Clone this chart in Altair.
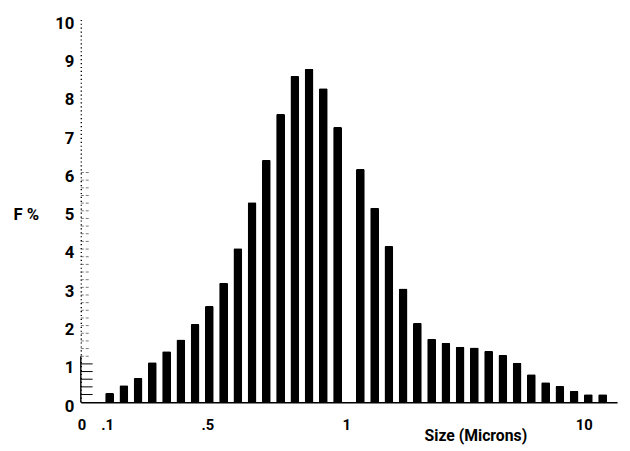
import altair as alt
import pandas as pd

# Bin positions (bar slots along the size axis; a wider gap sits at 1 micron)
bin_pos = [1, 2, 3, 4, 5, 6, 7, 8, 9, 10, 11, 12, 13, 14, 15, 16, 17,
           18.6, 19.6, 20.6, 21.6, 22.6, 23.6, 24.6, 25.6, 26.6, 27.6,
           28.6, 29.6, 30.6, 31.6, 32.6, 33.6, 34.6, 35.6]
# Frequency in %
freq = [0.24, 0.44, 0.63, 1.04, 1.33, 1.64, 2.04, 2.51, 3.12, 4.02, 5.22,
        6.33, 7.53, 8.52, 8.71, 8.20, 7.19,
        6.09, 5.08, 4.08, 2.97, 2.07, 1.66, 1.55, 1.45, 1.43, 1.34, 1.23,
        1.03, 0.73, 0.52, 0.42, 0.30, 0.21, 0.21]

x_tick_vals = [-0.675, 0.82, 7.86, 17.6, 34.28]
x_tick_labels = ["0", ".1", ".5", "1", "10"]
y_tick_vals = [0, 1, 2, 3, 4, 5, 6, 7, 8, 9, 10]
minor_solid = [0.2, 0.4, 0.6, 0.8, 1.0]
minor_dash = [1.2, 1.4, 1.6, 1.8, 2.0, 2.2, 2.4, 2.6, 2.8, 3.0, 3.2, 3.4, 3.6,
              3.8, 4.0, 4.2, 4.4, 4.6, 4.8, 5.0, 5.2, 5.4, 5.6, 5.8, 6.0]

FONT = "Roboto"

df = pd.DataFrame({"pos": bin_pos, "f": freq})

expr = "''"
for v, lab in reversed(list(zip(x_tick_vals, x_tick_labels))):
    expr = f"abs(datum.value - ({v})) < 0.01 ? '{lab}' : ({expr})"

x_axis = alt.Axis(
    values=x_tick_vals, labelExpr=expr, title="Size (Microns)",
    ticks=False, grid=False, domainColor="black", domainWidth=1.6,
    labelFont=FONT, labelFontSize=15, labelFontWeight="bold", labelColor="black",
    labelPadding=16,
    labelAlign={"condition": {"test": "datum.value < 0", "value": "right"}, "value": "center"},
    titleFont=FONT, titleFontSize=16, titleFontWeight="bold", titleColor="black",
    titleX=401, titleY=34, titleAlign="center", titleBaseline="middle",
)
y_axis = alt.Axis(
    values=y_tick_vals, title="F %", titleAngle=0, titleX=-69, titleY=198,
    titleAlign="left", titleBaseline="middle",
    titleFont=FONT, titleFontSize=17, titleFontWeight="bold", titleColor="black",
    domainDash=[1.2, 2.8], domainColor="black", domainWidth=1.4,
    ticks=False, grid=False, labelPadding=7, labelOffset=4,
    labelFont=FONT, labelFontSize=17, labelFontWeight="bold", labelColor="black",
)
y_scale = alt.Scale(domain=[0, 10], nice=False)

bars = alt.Chart(df).mark_bar(
    color="black", size=9, cornerRadiusTopLeft=1.5, cornerRadiusTopRight=1.5
).encode(
    x=alt.X("pos:Q", scale=alt.Scale(domain=[-0.675, 36.27], nice=False, zero=False), axis=x_axis),
    y=alt.Y("f:Q", scale=y_scale, axis=y_axis),
)

solid_ticks = alt.Chart(pd.DataFrame({"f": minor_solid})).mark_rule(
    color="black", strokeWidth=1
).encode(y=alt.Y("f:Q", scale=y_scale, axis=y_axis), x=alt.value(0), x2=alt.value(12))

dash_ticks = alt.Chart(pd.DataFrame({"f": minor_dash})).mark_rule(
    color="#555555", strokeWidth=0.8, strokeDash=[3, 2]
).encode(y=alt.Y("f:Q", scale=y_scale, axis=y_axis), x=alt.value(0), x2=alt.value(10))

base_line = alt.Chart(pd.DataFrame({"f": [0], "f2": [1.2]})).mark_rule(
    color="black", strokeWidth=1.4
).encode(y=alt.Y("f:Q", scale=y_scale, axis=y_axis), y2="f2:Q", x=alt.value(0))

chart = alt.layer(bars, dash_ticks, solid_ticks, base_line).properties(
    width=545, height=389, autosize="none",
    padding={"left": 74, "top": 8, "right": 5, "bottom": 44},
).configure(background="white").configure_view(stroke=None)

chart.save("out.html", embed_options={"renderer": "svg", "actions": False})
